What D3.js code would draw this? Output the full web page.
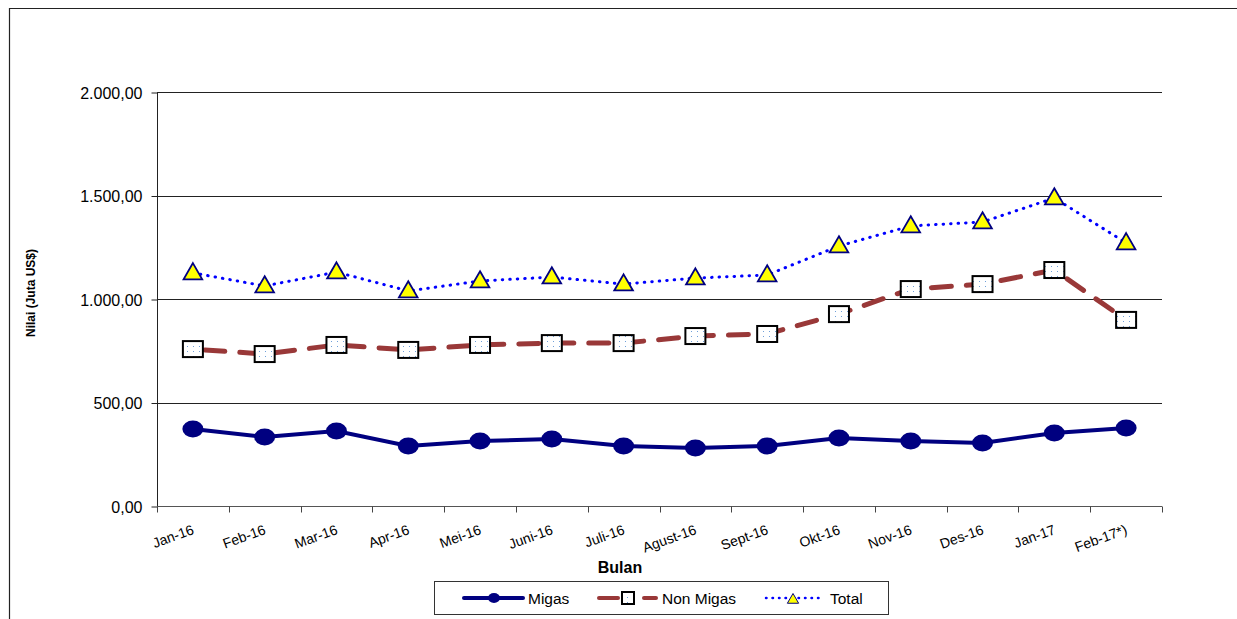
<!DOCTYPE html>
<html>
<head>
<meta charset="utf-8">
<script src="https://cdn.jsdelivr.net/npm/d3@7"></script>
<style>
  body { margin: 0; background: #fff; }
  svg text { font-family: "Liberation Sans", Arial, sans-serif; fill: #000; }
</style>
</head>
<body>
<script>
var width = 1237,
    height = 619;

// data
var months = ["Jan-16", "Feb-16", "Mar-16", "Apr-16", "Mei-16", "Juni-16", "Juli-16",
              "Agust-16", "Sept-16", "Okt-16", "Nov-16", "Des-16", "Jan-17", "Feb-17*)"];
var migas = [372, 333, 362, 290, 314, 324, 290, 280, 290, 328, 314, 304, 353, 377];
var nonMigas = [758, 734, 778, 754, 778, 787, 787, 821, 831, 927, 1048, 1072, 1140, 899];
var total = [1126, 1063, 1130, 1039, 1087, 1106, 1072, 1101, 1116, 1256, 1353, 1372, 1488, 1271];
var yTicks = [0, 500, 1000, 1500, 2000];

var svg = d3.select("body").append("svg")
    .attr("width", width)
    .attr("height", height);

// outer frame
svg.append("path")
    .attr("d", "M9.5," + height + "V8.5H" + width)
    .attr("fill", "none")
    .attr("stroke", "#222")
    .attr("stroke-width", 1.2);

var margin = {left: 157, top: 92, right: 1162, bottom: 506};

var x = d3.scaleBand()
    .domain(months)
    .range([margin.left, margin.right]);

var y = d3.scaleLinear()
    .domain([0, 2000])
    .range([margin.bottom, margin.top]);

var fmt = function(v) {
  return d3.format(",.2f")(v).replace(/,/g, "#").replace(".", ",").replace(/#/g, ".");
};

// dotted fill for squares
var defs = svg.append("defs");
var pat = defs.append("pattern")
    .attr("id", "dots")
    .attr("width", 6).attr("height", 5)
    .attr("patternUnits", "userSpaceOnUse");
pat.append("rect").attr("width", 6).attr("height", 5).attr("fill", "#fff");
pat.append("rect").attr("x", 1).attr("y", 1).attr("width", 1).attr("height", 1).attr("fill", "#6f9fd8");

// gridlines
svg.append("g")
  .selectAll("line")
  .data(yTicks.slice(1))
  .enter().append("line")
    .attr("x1", margin.left).attr("x2", margin.right)
    .attr("y1", function(d) { return Math.round(y(d)) + 0.5; })
    .attr("y2", function(d) { return Math.round(y(d)) + 0.5; })
    .attr("stroke", "#222");

// y axis
var yAxis = svg.append("g")
    .attr("transform", "translate(" + (margin.left + 0.5) + ",0.5)")
    .call(d3.axisLeft(y).tickValues(yTicks).tickFormat(fmt).tickSize(6).tickPadding(9));
yAxis.selectAll("text").style("font-size", "16px").attr("fill", "#000").attr("dy", "0.35em");
yAxis.selectAll("line, path").attr("stroke", "#222");
yAxis.select(".domain").attr("d", "M0," + margin.bottom + "V" + margin.top);

// x axis
var xAxis = svg.append("g")
    .attr("transform", "translate(0," + (margin.bottom + 0.5) + ")")
    .call(d3.axisBottom(x).tickSize(0).tickFormat(""));
xAxis.select(".domain").attr("stroke", "#555").attr("d", "M" + margin.left + ",0H" + margin.right);
xAxis.selectAll(".tick").remove();
xAxis.selectAll("line.sep")
  .data(months.map(function(m) { return x(m); }).concat([margin.right]))
  .enter().append("line")
    .attr("class", "sep")
    .attr("x1", function(d) { return Math.round(d) + 0.5; })
    .attr("x2", function(d) { return Math.round(d) + 0.5; })
    .attr("y1", 0).attr("y2", 6)
    .attr("stroke", "#444");
xAxis.selectAll("text.lbl")
  .data(months)
  .enter().append("text")
    .attr("class", "lbl")
    .attr("text-anchor", "end")
    .style("font-size", "14px")
    .attr("transform", function(d) {
      return "translate(" + (x(d) + x.bandwidth() / 2 + 2) + ",27) rotate(-20)";
    })
    .text(function(d) { return d; });

// axis titles
svg.append("text")
    .attr("x", 620).attr("y", 573)
    .attr("text-anchor", "middle")
    .style("font-size", "16px").style("font-weight", "bold")
    .text("Bulan");
svg.append("text")
    .attr("transform", "translate(35,293) rotate(-90)")
    .attr("text-anchor", "middle")
    .style("font-size", "12px").style("font-weight", "bold")
    .text("Nilai (Juta US$)");

var cx = function(d, i) { return x(months[i]) + x.bandwidth() / 2; };
var line = function(vals) {
  return d3.line().x(function(d, i) { return cx(d, i); }).y(function(d) { return y(d); })(vals);
};

// Total
svg.append("path")
    .attr("d", line(total))
    .attr("fill", "none")
    .attr("stroke", "#0000ff")
    .attr("stroke-width", 3)
    .attr("stroke-linecap", "round")
    .attr("stroke-dasharray", "0.5,7");

// Non Migas
svg.append("path")
    .attr("d", line(nonMigas))
    .attr("fill", "none")
    .attr("stroke", "#993838")
    .attr("stroke-width", 5)
    .attr("stroke-linecap", "round")
    .attr("stroke-dasharray", "20,15")
    .attr("stroke-dashoffset", -12);

// Migas
svg.append("path")
    .attr("d", line(migas))
    .attr("fill", "none")
    .attr("stroke", "#000080")
    .attr("stroke-width", 4);

var tri = d3.symbol().type(d3.symbolTriangle).size(150);

svg.append("g").selectAll("path")
  .data(total)
  .enter().append("path")
    .attr("d", tri)
    .attr("transform", function(d, i) { return "translate(" + cx(d, i) + "," + (y(d) + 1) + ")"; })
    .attr("fill", "#ffff00")
    .attr("stroke", "#000080")
    .attr("stroke-width", 1.8);

svg.append("g").selectAll("rect")
  .data(nonMigas)
  .enter().append("rect")
    .attr("x", function(d, i) { return cx(d, i) - 10; })
    .attr("y", function(d) { return y(d) - 8; })
    .attr("width", 20).attr("height", 16)
    .attr("fill", "url(#dots)")
    .attr("stroke", "#000")
    .attr("stroke-width", 2);

svg.append("g").selectAll("ellipse")
  .data(migas)
  .enter().append("ellipse")
    .attr("cx", function(d, i) { return cx(d, i); })
    .attr("cy", function(d) { return y(d); })
    .attr("rx", 10.5).attr("ry", 8.5)
    .attr("fill", "#000080");

// legend
var lg = svg.append("g").attr("transform", "translate(434,581)");
lg.append("rect")
    .attr("x", 0.5).attr("y", 0.5)
    .attr("width", 454).attr("height", 33)
    .attr("fill", "#fff")
    .attr("stroke", "#333");

lg.append("line").attr("x1", 30).attr("x2", 89).attr("y1", 17).attr("y2", 17)
    .attr("stroke", "#000080").attr("stroke-width", 4).attr("stroke-linecap", "round");
lg.append("ellipse").attr("cx", 60).attr("cy", 17).attr("rx", 6).attr("ry", 5).attr("fill", "#000080");
lg.append("text").attr("x", 94).attr("y", 22.5).style("font-size", "15.5px").text("Migas");

lg.append("line").attr("x1", 165).attr("x2", 184).attr("y1", 17).attr("y2", 17)
    .attr("stroke", "#993838").attr("stroke-width", 4).attr("stroke-linecap", "round");
lg.append("line").attr("x1", 210).attr("x2", 222).attr("y1", 17).attr("y2", 17)
    .attr("stroke", "#993838").attr("stroke-width", 4).attr("stroke-linecap", "round");
lg.append("rect").attr("x", 188).attr("y", 11).attr("width", 12).attr("height", 12)
    .attr("fill", "url(#dots)").attr("stroke", "#000").attr("stroke-width", 2);
lg.append("text").attr("x", 228).attr("y", 22.5).style("font-size", "15.5px").text("Non Migas");

lg.append("line").attr("x1", 332).attr("x2", 386).attr("y1", 17).attr("y2", 17)
    .attr("stroke", "#0000ff").attr("stroke-width", 2.5).attr("stroke-linecap", "round")
    .attr("stroke-dasharray", "0.5,6");
lg.append("path").attr("d", d3.symbol().type(d3.symbolTriangle).size(55))
    .attr("transform", "translate(359,19)")
    .attr("fill", "#ffff00").attr("stroke", "#000080").attr("stroke-width", 1);
lg.append("text").attr("x", 396).attr("y", 22.5).style("font-size", "15.5px").text("Total");
</script>
</body>
</html>
